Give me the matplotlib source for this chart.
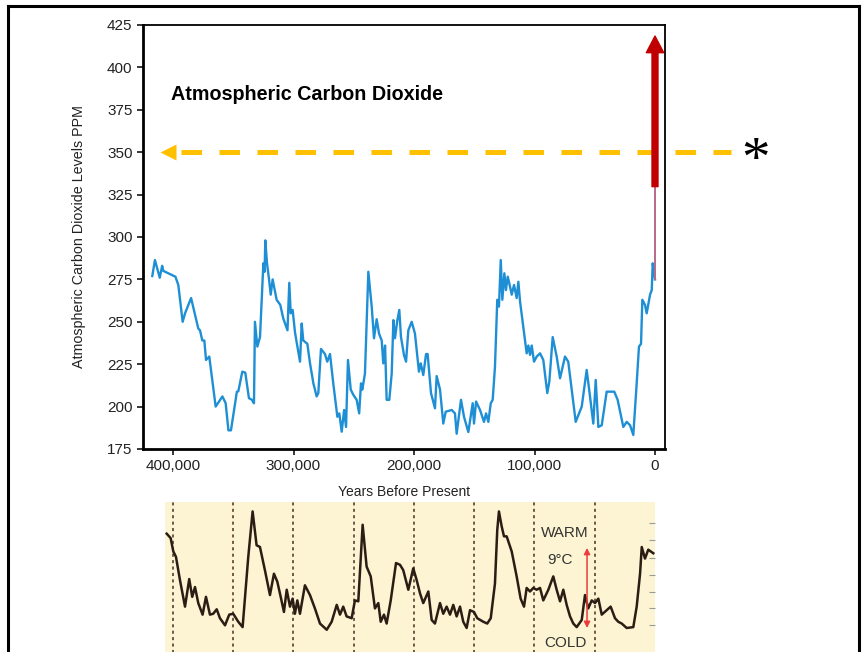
import matplotlib.pyplot as plt
from matplotlib.lines import Line2D
from matplotlib.ticker import FuncFormatter

plt.rcParams['font.family'] = ['Liberation Sans', 'DejaVu Sans']

# ice core CO2 (thousand years before present, ppm)
co2_kyr = [417.2, 415, 411, 409, 408, 398, 395.6, 392, 390, 385, 379, 377.6, 375.7, 374,
           372.6, 369.9, 364.6, 359, 356.3, 354, 351.9, 347, 345.8, 342.5, 340, 337,
           334.5, 332.8, 332, 330, 327.8, 325, 324, 323.4, 322, 320.3, 318.9, 317.3,
           314, 311, 308.5, 307, 305, 303.5, 302.3, 300.7, 298.8, 297.4, 294.6, 293.2,
           291.9, 288.5, 286.3, 283.5, 280.8, 279.4, 277.2, 273.9, 272, 269.7, 267,
           263.6, 262, 260, 258, 256.4, 254.8, 252.5, 250.4, 247.6, 245.5, 244, 242.9,
           240.7, 237.9, 235.1, 233.2, 231, 229, 226.8, 225.5, 224, 222.7, 220.5, 218.5,
           217.1, 215.8, 213.8, 212.2, 210.8, 208.3, 206.6, 204.7, 201.9, 199.2, 195.9,
           194.4, 192.3, 190, 188.7, 185.9, 182.6, 181.2, 178.4, 175.7, 173.7, 168.7,
           166, 164.6, 161, 158.5, 154.9, 151.3, 150.2, 148.5, 145.2, 141.9, 140.2,
           138.3, 136.3, 134.7, 132.8, 130.9, 129.5, 128, 126.7, 125, 123.7, 122.2,
           120.3, 118.9, 117, 114.8, 113.4, 112, 109.3, 106.5, 105.1, 103.7, 102.3,
           100.4, 98.2, 95.4, 92.7, 89.4, 87.7, 84.9, 81.6, 78.8, 74.7, 72, 69.1, 65.8,
           60.8, 56.7, 54.8, 51.2, 49.2, 47, 44.2, 40.1, 33.8, 31, 26.3, 23.5, 20.7, 18,
           15.2, 13.3, 11.6, 10.5, 8.3, 6.9, 4.1, 2.7, 1.9, 0.6, 0]
co2_ppm = [277, 286.4, 276, 283, 280, 276.6, 271.7, 250, 255, 264, 246, 245, 239, 239,
           227.5, 229.5, 200, 206, 202, 186, 186, 208.8, 209, 220.6, 220, 205,
           204, 202, 250, 235.4, 241, 284.5, 279.5, 298, 284.5, 275, 266, 275,
           263, 260, 252, 249, 245, 273, 255, 257, 244, 238, 226.5, 249,
           239, 237, 225.5, 213.7, 206, 208, 234, 231, 226.5, 231, 213.7,
           194, 196, 185.2, 198, 188, 227.5, 210, 207, 204, 196, 213.7, 210,
           219.6, 279.5, 259, 240.3, 251.5, 243, 239, 225.5, 236, 204, 204, 219.6,
           251, 240.3, 251, 257, 241, 230.4, 226.5, 245, 250, 243, 220.6,
           225.5, 218.6, 231, 231, 208, 199, 218, 210, 190, 197, 198,
           196, 184, 204, 194, 185, 202, 190, 203, 198, 191, 196,
           191, 202, 204, 223.5, 263, 259, 286.4, 263, 278.6, 268.7, 276.6,
           270.7, 266, 271.7, 264, 273.6, 262, 247, 231.4, 236, 230.5, 236,
           226.5, 229.5, 231.4, 227.5, 208, 214.7, 241, 229.5, 216.7, 229.5, 226.5, 210, 191,
           200, 221.6, 211, 190, 215.7, 188, 189, 208.8, 208.8, 204, 188, 191, 189, 183.3,
           213.7, 235.4, 237, 263, 260, 255, 266, 268.7, 284.5, 278.6, 275]

# modern rise (mostly hidden behind the red arrow)
modern_kyr = [0, 0]
modern_ppm = [275, 335]

# temperature record (deg C relative to present)
temp_kyr = [405.2, 401.9, 399.7, 397.5, 394.2, 390, 386.5, 384, 381.7, 379, 375.4, 372.6,
            369.3, 366.6, 363.7, 361, 356.8, 353.3, 350, 345.8, 342.2, 337.5, 333.9,
            330.6, 327.8, 323.7, 319.5, 316.2, 313.4, 310.6, 307.9, 305.6, 302.9, 300.7,
            298.8, 296.8, 294.6, 290.5, 286.3, 282.2, 278, 272.4, 268.3, 264.1, 261.4,
            258.7, 255.9, 251.7, 249, 246.2, 242.6, 239.3, 235.9, 232.4, 229.6, 227.6,
            224.9, 222.7, 219.3, 214.9, 211.6, 208.9, 204.7, 200.6, 197.8, 195, 192.3,
            188.1, 185.3, 182.6, 178.4, 175.7, 172.9, 170.1, 167.4, 164.6, 161.8, 159.1,
            156.3, 153.5, 150.2, 147.5, 142.5, 139.2, 136.3, 132.8, 130.9, 129.5, 127.2,
            125.3, 123.1, 118.9, 114.8, 111.5, 108.7, 106.5, 103.7, 101, 98.2, 95.4, 92.7,
            88.5, 84.4, 81.6, 78.8, 76.1, 73.3, 70.5, 67.8, 65, 60.8, 58.1, 55.4, 52.5,
            49.8, 47, 44.2, 40.1, 36.8, 33.2, 30.5, 27.6, 23.5, 18, 15.2, 12.4, 11, 8.3,
            5.6, 1.4]
temp_c = [2.4, 1.9, 0.4, -0.2, -2.8, -5.8, -2.7, -4.7, -3.6, -5.4, -6.7, -4.7,
          -6.7, -6.6, -6.1, -7.1, -7.9, -6.7, -6.6, -7.5, -8.1, -0.2, 4.9,
          1.1, 0.9, -1.7, -4.5, -2.1, -3.0, -4.7, -6.4, -3.9, -5.8, -4.9,
          -6.6, -5.1, -6.6, -3.4, -4.5, -6.0, -7.7, -8.4, -7.5, -5.6, -6.7,
          -5.8, -6.9, -7.1, -5.1, -5.2, 3.4, -1.3, -2.4, -6.0, -5.4, -7.5,
          -6.7, -7.7, -5.1, -0.9, -1.1, -1.7, -3.9, -1.5, -2.8, -4.3, -5.4,
          -4.1, -7.3, -7.7, -5.4, -6.6, -5.8, -6.7, -5.6, -6.9, -5.8, -7.5,
          -8.2, -6.2, -6.4, -7.1, -7.5, -7.7, -7.1, -3.2, 2.8, 4.9, 3.2,
          2.1, 2.1, 0.4, -2.4, -4.9, -5.8, -3.7, -4.1, -3.7, -3.9, -3.7, -5.1,
          -3.9, -2.4, -3.9, -5.2, -3.9, -5.6, -6.9, -7.7, -8.1, -7.3, -4.5, -6.0, -5.1,
          -5.4, -4.9, -6.7, -6.2, -5.8, -7.1, -7.5, -7.7, -8.2, -8.1, -5.8, -2.1, 0.9, -0.4,
          0.6, 0.2]

y_ticks = [175, 200, 225, 250, 275, 300, 325, 350, 375, 400, 425]
x_ticks = [400000, 300000, 200000, 100000, 0]
cycle_lines_kyr = [400, 350, 300, 250, 200, 150, 100, 50]
temp_ticks = [3.6, 1.7, -0.3, -2.2, -4.2, -6.0, -7.9]
target_ppm = 350

W, H = 863, 652
fig = plt.figure(figsize=(W / 100, H / 100), dpi=100)

# main CO2 chart
ax = fig.add_axes([143 / W, 1 - 449 / H, 522 / W, 424 / H])
ax.plot([k * 1000 for k in co2_kyr], co2_ppm, color='#1e8fd5', lw=1.7)
ax.plot([k * 1000 for k in modern_kyr], modern_ppm, color='#b5698a', lw=1.4)

# yellow dashed 350 ppm line
ax.plot([393600, -62800], [target_ppm, target_ppm], color='#ffc000', lw=3.6,
        dashes=(4.1, 3.5), dash_capstyle='butt', clip_on=False, zorder=4)
ax.plot([404100], [target_ppm], marker='<', ms=11.5, color='#ffc000', mec='none',
        clip_on=False, zorder=4)

# red arrow for the modern rise
ax.annotate('', xy=(0, 418.5), xytext=(0, 329.7),
            arrowprops=dict(width=4.3, headwidth=12.5, headlength=12,
                            facecolor='#c00000', edgecolor='#c00000', shrink=0),
            zorder=5)

ax.set_xlim(424900, -8300)
ax.set_ylim(175, 425)
ax.set_yticks(y_ticks)
ax.set_xticks(x_ticks)
ax.xaxis.set_major_formatter(FuncFormatter(lambda v, _: f'{int(v):,}'))
ax.tick_params(direction='out', length=4.5, width=1.1, labelsize=11,
               labelcolor='#222222', pad=3)
for side in ['left', 'bottom']:
    ax.spines[side].set_linewidth(2.0)
for side in ['top', 'right']:
    ax.spines[side].set_linewidth(1.3)

ax.set_ylabel('Atmospheric Carbon Dioxide Levels PPM', fontsize=10.3, color='#222222')
ax.yaxis.set_label_coords(-0.109, 0.5)
ax.set_xlabel('Years Before Present', fontsize=10, color='#222222')
ax.xaxis.set_label_coords(0.5, -0.086)
ax.text(0.0536, 0.837, 'Atmospheric Carbon Dioxide', transform=ax.transAxes,
        fontsize=14.2, fontweight='bold', va='center', ha='left')

# temperature panel below
ax2 = fig.add_axes([165 / W, 1 - 665 / H, 490 / W, 163 / H])
ax2.set_facecolor('#fcf4d2')
for kyr in cycle_lines_kyr:
    ax2.axvline(kyr * 1000, color='#4a3020', lw=1.1, ls=(0, (2, 2.2)))
ax2.plot([k * 1000 for k in temp_kyr], temp_c, color='#2b1d14', lw=1.8)
ax2.set_xlim(406600, 0)
ax2.set_ylim(-12.36, 5.96)
for s in ax2.spines.values():
    s.set_visible(False)
ax2.set_xticks([])
ax2.yaxis.tick_right()
ax2.set_yticks(temp_ticks)
ax2.tick_params(axis='y', direction='in', length=4, width=0.8, color='#9a9a9a',
                labelright=False)

ax2.text(74700, 2.5, 'WARM', ha='center', va='center', fontsize=11, color='#333333')
ax2.text(78800, -0.6, '9°C', ha='center', va='center', fontsize=11, color='#333333')
ax2.text(74700, -9.9, 'COLD', ha='center', va='center', fontsize=11, color='#333333')
ax2.annotate('', xy=(56400, 0.8), xytext=(56400, -8.2),
             arrowprops=dict(arrowstyle='<|-|>', color='#ee3b3b', lw=1.1,
                             mutation_scale=9, shrinkA=0, shrinkB=0))

# asterisk note and slide frame
fig.text(755 / W, 1 - 176 / H, '*', fontsize=41, family='Liberation Serif',
         ha='center', va='baseline')
fig.add_artist(Line2D([8 / W, 859 / W], [1 - 6 / H, 1 - 6 / H], color='black', lw=2.2))
fig.add_artist(Line2D([8 / W, 8 / W], [0, 1 - 6 / H], color='black', lw=2.2))
fig.add_artist(Line2D([859 / W, 859 / W], [0, 1 - 6 / H], color='black', lw=2.2))

fig.savefig('out.png', dpi=100)
